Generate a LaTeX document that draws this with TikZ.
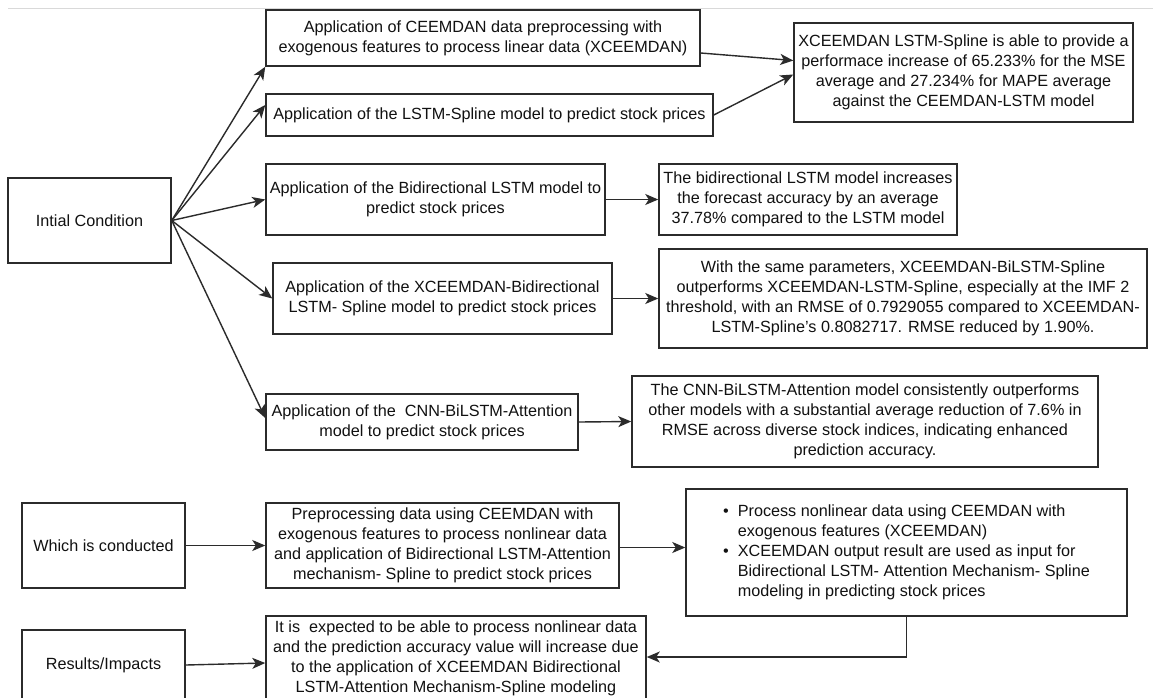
\documentclass[tikz,border=0pt]{standalone}
\usepackage{fontspec}
\setmainfont{Liberation Sans}
\usetikzlibrary{arrows.meta,calc}
\definecolor{edge}{HTML}{2B2B2B}
\definecolor{txt}{HTML}{111111}
\begin{document}
\begin{tikzpicture}[x=1pt,y=-1pt,
  box/.style={draw=edge, line width=1.5pt, inner sep=0pt, align=center, text=txt,
    font=\fontsize{16.2}{20}\selectfont},
  conn/.style={draw=edge, line width=1.4pt, -{Stealth[length=13pt,width=11pt,inset=3.5pt]}}]
\useasboundingbox (0,0) rectangle (1153,697);
\fill[white] (0,0) rectangle (1153,697);
\draw[black!15, line width=1pt] (8,8) -- (1153,8);

\node[box, minimum width=163pt, minimum height=85pt] (init) at (89.5,220.5) {Intial Condition};
\node[box, minimum width=434pt, minimum height=56pt] (b1) at (483,38)
  {Application of CEEMDAN data preprocessing with\\exogenous features to process linear data (XCEEMDAN)};
\node[box, minimum width=447pt, minimum height=42pt] (b2) at (489.5,115)
  {Application of the LSTM-Spline model to predict stock prices};
\node[box, minimum width=339pt, minimum height=71pt] (b3) at (435.5,199.5)
  {Application of the Bidirectional LSTM model to\\predict stock prices};
\node[box, minimum width=339pt, minimum height=99pt] (r1) at (963.5,72.5)
  {XCEEMDAN LSTM-Spline is able to provide a\\performace increase of 65.233\% for the MSE\\average and 27.234\% for MAPE average\\against the CEEMDAN-LSTM model};
\node[box, minimum width=298pt, minimum height=71pt] (r3) at (808,199.5)
  {The bidirectional LSTM model increases\\the forecast accuracy by an average\\37.78\% compared to the LSTM model};
\node[box, minimum width=339pt, minimum height=71pt] (b4) at (442.5,298.5)
  {Application of the XCEEMDAN-Bidirectional\\LSTM- Spline model to predict stock prices};
\node[box, minimum width=488pt, minimum height=99pt] (r4) at (903,298.5)
  {With the same parameters, XCEEMDAN-BiLSTM-Spline\\outperforms XCEEMDAN-LSTM-Spline, especially at the IMF 2\\threshold, with an RMSE of 0.7929055 compared to XCEEMDAN-\\LSTM-Spline's 0.8082717. RMSE reduced by 1.90\%.};
\node[box, minimum width=312pt, minimum height=56pt] (b5) at (422,422)
  {Application of the\ \ CNN-BiLSTM-Attention\\model to predict stock prices};
\node[box, minimum width=466pt, minimum height=91pt] (r5) at (865,421.5)
  {The CNN-BiLSTM-Attention model consistently outperforms\\other models with a substantial average reduction of 7.6\% in\\RMSE across diverse stock indices, indicating enhanced\\prediction accuracy.};
\node[box, minimum width=163pt, minimum height=85pt] (which) at (103.5,545.5) {Which is conducted};
\node[box, minimum width=353pt, minimum height=85pt] (b6) at (442.5,545.5)
  {Preprocessing data using CEEMDAN with\\exogenous features to process nonlinear data\\and application of Bidirectional LSTM-Attention\\mechanism- Spline to predict stock prices};
\node[box, minimum width=441pt, minimum height=127pt] (r6) at (906.5,552.5)
  {\begin{tabular}{@{}c@{\hspace{9pt}}l@{}}
   \textbullet & Process nonlinear data using CEEMDAN with\\
   & exogenous features (XCEEMDAN)\\
   \textbullet & XCEEMDAN output result are used as input for\\
   & Bidirectional LSTM- Attention Mechanism- Spline\\
   & modeling in predicting stock prices
   \end{tabular}};
\node[box, minimum width=163pt, minimum height=70pt] (res) at (103.5,665) {Results/Impacts};
\node[box, minimum width=380pt, minimum height=84pt] (b7) at (456,658)
  {It is\ \ expected to be able to process nonlinear data\\and the prediction accuracy value will increase due\\to the application of XCEEMDAN Bidirectional\\LSTM-Attention Mechanism-Spline modeling};

\draw[conn] (init.east) -- (b1.south west);
\draw[conn] (init.east) -- ([yshift=10pt]b2.west);
\draw[conn] (init.east) -- (b3.west);
\draw[conn] (init.east) -- (b4.west);
\draw[conn] (init.east) -- ([yshift=4pt]b5.west);
\draw[conn] ([yshift=-15pt]b1.east) -- ([yshift=12pt]r1.west);
\draw[conn] (b2.east) -- ([yshift=-2pt]r1.west);
\draw[conn] (b3.east) -- (r3.west);
\draw[conn] (b4.east) -- (r4.west);
\draw[conn] (b5.east) -- (r5.west);
\draw[conn] (which.east) -- (b6.west);
\draw[conn] ([yshift=-2pt]b6.east) -- ([yshift=-2pt]b6.east -| r6.west);
\draw[conn] (res.east) -- ([yshift=-5pt]b7.west);
\draw[conn] (r6.south) |- ([yshift=1pt]b7.east);
\end{tikzpicture}
\end{document}
